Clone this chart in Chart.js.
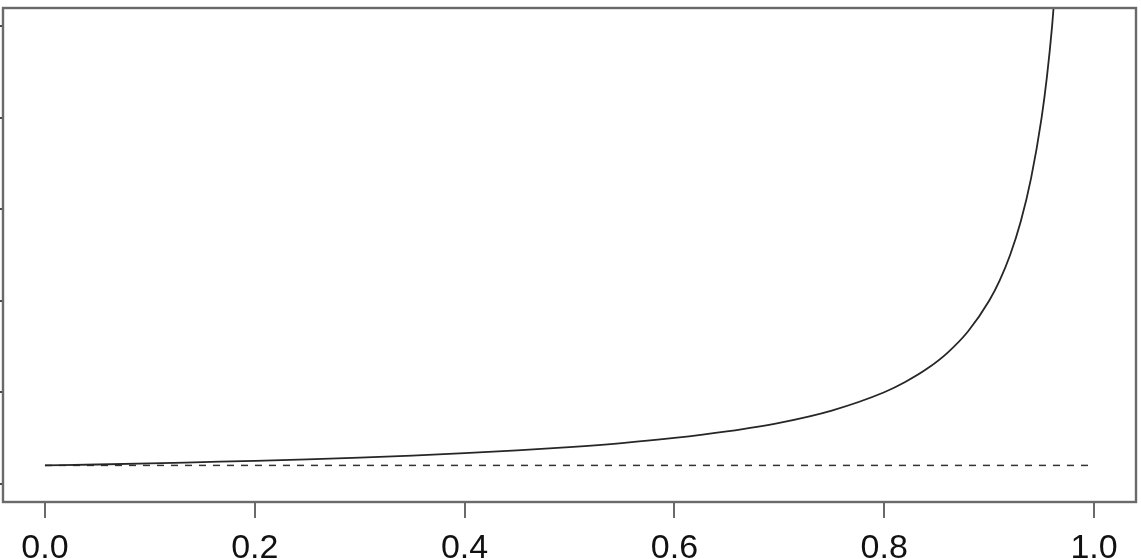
<!DOCTYPE html>
<html>
<head>
<meta charset="utf-8">
<script src="https://cdn.jsdelivr.net/npm/chart.js@4"></script>
<style>
  html, body { margin: 0; padding: 0; background: #fff; }
  #wrap { width: 1141px; height: 559px; }
</style>
</head>
<body>
<div id="wrap"><canvas id="plot"></canvas></div>
<script>
// curve values
const curveX = [0, 0.05, 0.1, 0.15, 0.2, 0.25, 0.3, 0.35, 0.4, 0.45, 0.5, 0.55, 0.6, 0.65, 0.7, 0.75,
                0.8, 0.82, 0.84, 0.86, 0.88, 0.9, 0.91, 0.92, 0.93, 0.94, 0.95, 0.955, 0.96, 0.965];
const curveY = [1.0, 1.05, 1.11, 1.18, 1.25, 1.33, 1.43, 1.54, 1.67, 1.82, 2.0, 2.22, 2.5, 2.86, 3.33, 4.0,
                5.0, 5.56, 6.25, 7.14, 8.33, 10.0, 11.1, 12.5, 14.3, 16.7, 20.0, 22.2, 25.0, 28.6];

// dashed reference line
const refX = [0, 1];
const refY = [1, 1];

// axis ticks
const xTicks = [0, 0.2, 0.4, 0.6, 0.8, 1.0];
const xTickLabels = ['0.0', '0.2', '0.4', '0.6', '0.8', '1.0'];
const yTicks = [0, 5, 10, 15, 20, 25];

const toPoints = (xs, ys) => xs.map((x, i) => ({ x: x, y: ys[i] }));

// box around the plot region, like R's box()
const plotBox = {
    id: 'plotBox',
    afterDraw: (chart) => {
        const a = chart.chartArea;
        const ctx = chart.ctx;
        ctx.save();
        ctx.strokeStyle = '#6a6a6a';
        ctx.lineWidth = 2.4;
        ctx.strokeRect(a.left, a.top, a.right - a.left, a.bottom - a.top);
        ctx.restore();
    }
};

new Chart(document.getElementById('plot'), {
    type: 'line',
    data: {
        datasets: [
            {
                data: toPoints(curveX, curveY),
                borderColor: '#262626',
                borderWidth: 1.8,
                pointRadius: 0,
                cubicInterpolationMode: 'monotone',
                fill: false
            },
            {
                data: toPoints(refX, refY),
                borderColor: '#333333',
                borderWidth: 1.5,
                borderDash: [7, 7],
                pointRadius: 0,
                fill: false
            }
        ]
    },
    options: {
        responsive: true,
        maintainAspectRatio: false,
        animation: false,
        layout: { padding: { top: 8, right: 5, left: 0, bottom: 0 } },
        plugins: {
            legend: { display: false },
            tooltip: { enabled: false }
        },
        scales: {
            x: {
                type: 'linear',
                min: -0.04,
                max: 1.04,
                afterBuildTicks: (scale) => { scale.ticks = xTicks.map(v => ({ value: v })); },
                afterFit: (scale) => { scale.height = 57; },
                border: { display: false },
                grid: {
                    drawOnChartArea: false,
                    drawTicks: true,
                    tickLength: 16,
                    color: '#6a6a6a',
                    lineWidth: 2
                },
                ticks: {
                    autoSkip: false,
                    maxRotation: 0,
                    padding: 10,
                    color: '#111111',
                    font: { family: 'Liberation Sans', size: 34 },
                    callback: (value) => {
                        const i = xTicks.indexOf(value);
                        return i >= 0 ? xTickLabels[i] : '';
                    }
                }
            },
            y: {
                type: 'linear',
                min: -1,
                max: 26,
                afterBuildTicks: (scale) => { scale.ticks = yTicks.map(v => ({ value: v })); },
                afterFit: (scale) => { scale.width = 3; },
                border: { display: false },
                grid: {
                    drawOnChartArea: false,
                    drawTicks: true,
                    tickLength: 16,
                    color: '#4a4a4a',
                    lineWidth: 2
                },
                ticks: { display: false }
            }
        }
    },
    plugins: [plotBox]
});
</script>
</body>
</html>
